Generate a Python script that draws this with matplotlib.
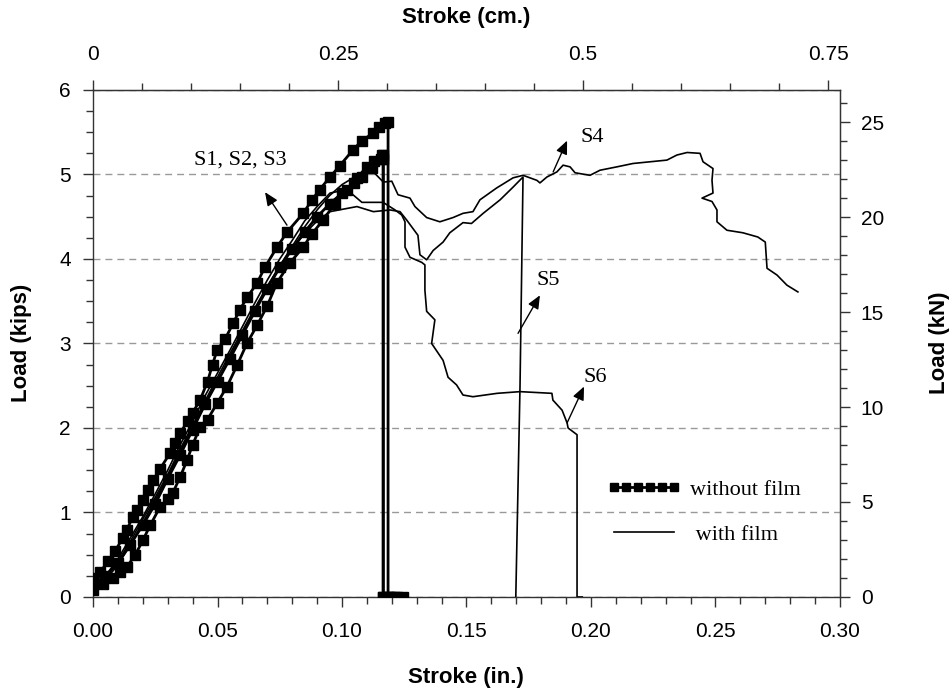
import matplotlib
matplotlib.use("Agg")
import matplotlib.pyplot as plt
from matplotlib.ticker import MultipleLocator, FormatStrFormatter

# ---- data (stroke in inches, load in kips) ----
# without film (S1, S2, S3)
s1_x = [0.000, 0.003, 0.006, 0.009, 0.012, 0.0135, 0.016, 0.0175, 0.020, 0.022, 0.0241,
        0.027, 0.0309, 0.033, 0.035, 0.038, 0.040, 0.043, 0.046, 0.048, 0.0498, 0.053,
        0.0563, 0.059, 0.062, 0.0658, 0.069, 0.0739, 0.078, 0.0844, 0.088, 0.091, 0.0952,
        0.099, 0.1044, 0.108, 0.1125, 0.115, 0.1173, 0.1185, 0.1185, 0.121, 0.1245]
s1_y = [0.22, 0.30, 0.42, 0.55, 0.70, 0.79, 0.95, 1.03, 1.15, 1.27, 1.38,
        1.52, 1.70, 1.82, 1.94, 2.08, 2.18, 2.33, 2.55, 2.75, 2.92, 3.05,
        3.24, 3.40, 3.55, 3.71, 3.90, 4.14, 4.32, 4.54, 4.70, 4.82, 4.97,
        5.10, 5.29, 5.40, 5.49, 5.56, 5.61, 5.62, 0.00, 0.00, 0.00]

s2_x = [0.000, 0.005, 0.010, 0.015, 0.020, 0.025, 0.030, 0.035, 0.040, 0.045, 0.050,
        0.055, 0.060, 0.065, 0.070, 0.075, 0.080, 0.085, 0.090, 0.095, 0.100, 0.105,
        0.108, 0.112, 0.1155, 0.1166, 0.1166, 0.120]
s2_y = [0.15, 0.25, 0.40, 0.62, 0.85, 1.10, 1.40, 1.68, 1.98, 2.28, 2.55,
        2.82, 3.10, 3.38, 3.65, 3.90, 4.12, 4.32, 4.50, 4.65, 4.78, 4.90,
        4.97, 5.08, 5.18, 5.18, 0.00, 0.00]

s3_x = [0.000, 0.004, 0.008, 0.011, 0.0137, 0.017, 0.020, 0.023, 0.027, 0.030, 0.032,
        0.035, 0.0378, 0.040, 0.043, 0.046, 0.050, 0.0538, 0.058, 0.0618, 0.066, 0.0699,
        0.0739, 0.079, 0.0844, 0.088, 0.0924, 0.097, 0.102, 0.106, 0.110, 0.113, 0.1161,
        0.1165, 0.1165, 0.119, 0.122]
s3_y = [0.08, 0.15, 0.22, 0.30, 0.36, 0.50, 0.67, 0.85, 1.07, 1.16, 1.23,
        1.42, 1.62, 1.80, 2.01, 2.10, 2.30, 2.49, 2.75, 3.00, 3.22, 3.44,
        3.72, 3.95, 4.14, 4.30, 4.46, 4.65, 4.82, 4.96, 5.09, 5.16, 5.23,
        5.23, 0.00, 0.00, 0.00]

# with film (S4, S5, S6)
s4_x = [0.000, 0.005, 0.010, 0.015, 0.020, 0.025, 0.030, 0.035, 0.040, 0.045, 0.050,
        0.055, 0.060, 0.065, 0.070, 0.075, 0.080, 0.085, 0.090, 0.095, 0.100, 0.105,
        0.1126, 0.1166, 0.120, 0.1225, 0.1273, 0.1293, 0.134, 0.1393, 0.1446, 0.1486,
        0.1526, 0.1554, 0.1621, 0.1687, 0.1727, 0.1783, 0.1795, 0.1823, 0.1863, 0.1888,
        0.1916, 0.1936, 0.1996, 0.2036, 0.2104, 0.2169, 0.2237, 0.2305, 0.2345, 0.2386,
        0.2438, 0.245, 0.249, 0.2486, 0.249, 0.2446, 0.2486, 0.2506, 0.2506, 0.2546,
        0.261, 0.267, 0.270, 0.2707, 0.2747, 0.2787, 0.2831]
s4_y = [0.05, 0.20, 0.38, 0.62, 0.88, 1.15, 1.42, 1.72, 2.00, 2.28, 2.55,
        2.85, 3.12, 3.40, 3.66, 3.92, 4.15, 4.38, 4.58, 4.75, 4.88, 4.97,
        5.03, 4.91, 4.92, 4.76, 4.72, 4.62, 4.49, 4.44, 4.49, 4.54,
        4.56, 4.70, 4.84, 4.96, 4.99, 4.93, 4.90, 4.97, 5.03, 5.11,
        5.09, 5.02, 4.99, 5.05, 5.09, 5.13, 5.15, 5.17, 5.23, 5.26,
        5.25, 5.15, 5.07, 4.93, 4.78, 4.72, 4.68, 4.58, 4.44, 4.34,
        4.31, 4.26, 4.20, 3.89, 3.81, 3.69, 3.61]

s5_x = [0.000, 0.005, 0.010, 0.015, 0.020, 0.025, 0.030, 0.035, 0.040, 0.045, 0.050,
        0.055, 0.060, 0.065, 0.070, 0.075, 0.080, 0.085, 0.090, 0.0952, 0.106, 0.1126,
        0.1193, 0.1233, 0.126, 0.1305, 0.1313, 0.134, 0.1366, 0.1406, 0.1433, 0.1486,
        0.152, 0.1567, 0.1635, 0.1687, 0.1727, 0.1715, 0.1698]
s5_y = [0.08, 0.22, 0.42, 0.66, 0.92, 1.18, 1.45, 1.75, 2.03, 2.32, 2.60,
        2.88, 3.15, 3.42, 3.68, 3.92, 4.12, 4.30, 4.45, 4.56, 4.62, 4.56,
        4.58, 4.56, 4.46, 4.28, 4.05, 3.99, 4.10, 4.20, 4.31, 4.43,
        4.42, 4.54, 4.70, 4.85, 4.97, 2.50, 0.00]

s6_x = [0.000, 0.005, 0.010, 0.015, 0.020, 0.025, 0.030, 0.035, 0.040, 0.045, 0.050,
        0.055, 0.060, 0.065, 0.070, 0.075, 0.080, 0.085, 0.090, 0.0952, 0.102, 0.108,
        0.1165, 0.1213, 0.124, 0.1253, 0.1253, 0.1273, 0.132, 0.1333, 0.1333, 0.134,
        0.1373, 0.136, 0.1406, 0.1426, 0.146, 0.1486, 0.1526, 0.1623, 0.1715, 0.1843,
        0.1847, 0.1884, 0.1904, 0.1908, 0.1944, 0.1944, 0.1965]
s6_y = [0.12, 0.25, 0.45, 0.70, 0.95, 1.22, 1.50, 1.80, 2.08, 2.38, 2.65,
        2.92, 3.20, 3.48, 3.75, 4.00, 4.22, 4.45, 4.62, 4.78, 4.82, 4.67,
        4.67, 4.58, 4.52, 4.44, 4.14, 4.02, 3.96, 3.93, 3.63, 3.38,
        3.28, 3.00, 2.80, 2.60, 2.51, 2.39, 2.37, 2.41, 2.43, 2.41,
        2.33, 2.21, 2.06, 2.00, 1.92, 0.00, 0.00]

# annotations: label, text position, arrow head, arrow tail
notes = [
    ("S1, S2, S3", (0.059, 5.17), (0.0691, 4.79), (0.0779, 4.40)),
    ("S4", (0.2004, 5.44), (0.1904, 5.40), (0.1848, 5.03)),
    ("S5", (0.1828, 3.75), (0.1795, 3.57), (0.1707, 3.12)),
    ("S6", (0.2016, 2.60), (0.1972, 2.49), (0.1904, 2.06)),
]

IN_TO_CM = 2.54
KIP_TO_KN = 4.448

sans = "Liberation Sans"
serif = "Liberation Serif"
axis_col = "#333333"
tick_fs = 15

fig = plt.figure(figsize=(9.53, 6.92), dpi=100)
ax = fig.add_axes([0.0976, 0.1373, 0.7838, 0.7327])

thin = dict(color="black", lw=1.2, zorder=3)
ax.plot(s5_x, s5_y, **thin)
ax.plot(s6_x, s6_y, **thin)
h_with, = ax.plot(s4_x, s4_y, label=" with film", **thin)

thick = dict(color="black", lw=2, marker="s", markersize=6.5, zorder=4)
h_without, = ax.plot(s1_x, s1_y, label="without film", **thick)
ax.plot(s2_x, s2_y, **thick)
ax.plot(s3_x, s3_y, **thick)

ax.set_xlim(0, 0.30)
ax.set_ylim(0, 6)
ax.xaxis.set_major_locator(MultipleLocator(0.05))
ax.xaxis.set_minor_locator(MultipleLocator(0.01))
ax.xaxis.set_major_formatter(FormatStrFormatter("%.2f"))
ax.yaxis.set_major_locator(MultipleLocator(1))
ax.yaxis.set_minor_locator(MultipleLocator(0.25))
ax.yaxis.grid(True, linestyle=(0, (5, 3.6)), color="#999999", lw=1)
ax.set_axisbelow(True)

ax.tick_params(which="both", direction="out", color=axis_col, width=1)
ax.tick_params(which="major", length=7, labelsize=tick_fs)
ax.tick_params(which="minor", length=5)
ax.tick_params(axis="x", which="major", pad=11)
ax.tick_params(axis="y", which="major", pad=9)
for lab in ax.get_xticklabels() + ax.get_yticklabels():
    lab.set_fontfamily(sans)
for sp in ax.spines.values():
    sp.set_color(axis_col)
    sp.set_linewidth(1)

secx = ax.secondary_xaxis("top", functions=(lambda x: x * IN_TO_CM, lambda x: x / IN_TO_CM))
secx.set_xticks([0, 0.25, 0.5, 0.75])
secx.set_xticklabels(["0", "0.25", "0.5", "0.75"], fontfamily=sans, fontsize=tick_fs)
secx.xaxis.set_minor_locator(MultipleLocator(0.05))
secx.tick_params(which="both", direction="out", color=axis_col, width=1)
secx.tick_params(which="major", length=7, pad=12)
secx.tick_params(which="minor", length=5)
secx.spines["top"].set_color(axis_col)

secy = ax.secondary_yaxis("right", functions=(lambda y: y * KIP_TO_KN, lambda y: y / KIP_TO_KN))
secy.set_yticks([0, 5, 10, 15, 20, 25])
secy.set_yticklabels(["0", "5", "10", "15", "20", "25"], fontfamily=sans, fontsize=tick_fs)
secy.yaxis.set_minor_locator(MultipleLocator(1))
secy.tick_params(which="both", direction="out", color=axis_col, width=1)
secy.tick_params(which="major", length=7, pad=8)
secy.tick_params(which="minor", length=5)
secy.spines["right"].set_color(axis_col)

lab_kw = dict(fontfamily=sans, fontsize=16, fontweight="bold", ha="center", va="center")
fig.text(466 / 953, 1 - 677 / 692, "Stroke (in.)", **lab_kw)
fig.text(466 / 953, 1 - 18 / 692, "Stroke (cm.)", **lab_kw)
fig.text(22 / 953, 1 - 343 / 692, "Load (kips)", rotation=90, **lab_kw)
fig.text(940 / 953, 1 - 343 / 692, "Load (kN)", rotation=90, **lab_kw)

for label, txt, head, tail in notes:
    ax.annotate("", xy=head, xytext=tail,
                arrowprops=dict(arrowstyle="-|>,head_length=0.8,head_width=0.35",
                                color="black", lw=1, shrinkA=0, shrinkB=0),
                zorder=5)
    ax.text(txt[0], txt[1], label, fontfamily=serif, fontsize=16,
            ha="center", va="center", zorder=5)

ax.legend(handles=[h_without, h_with], loc="upper left",
          bbox_to_anchor=(0.688, 0.232), frameon=False, borderpad=0,
          borderaxespad=0, handlelength=3.3, handletextpad=0.45,
          labelspacing=1.1, numpoints=6, markerscale=0.8,
          prop={"family": serif, "size": 16})

fig.savefig("out.png", dpi=100)
